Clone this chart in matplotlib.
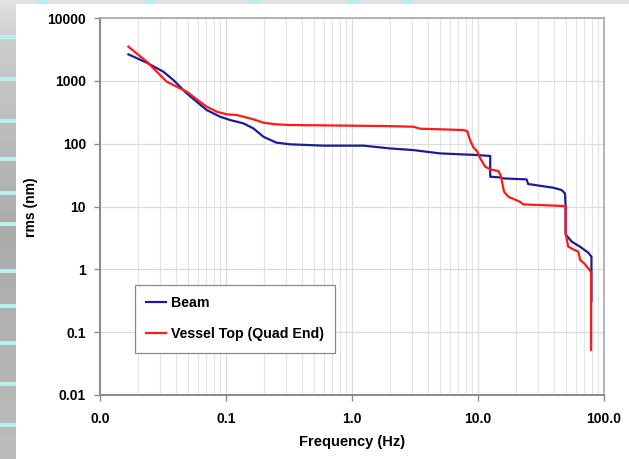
import numpy as np
import matplotlib
matplotlib.use("Agg")
import matplotlib.pyplot as plt
from matplotlib.patches import Rectangle, Polygon
from matplotlib.ticker import FixedLocator, NullFormatter

plt.rcParams['font.family'] = ['Liberation Sans', 'DejaVu Sans']

# ---- data ----
beam_f = [0.0168, 0.0235, 0.0318, 0.0382, 0.0488, 0.0585, 0.0703, 0.0896, 0.1076,
          0.137, 0.165, 0.198, 0.250, 0.322, 0.59, 1.23, 2.0, 3.07, 5.0, 9.77,
          12.5, 12.5, 15.0, 15.9, 24.3, 25.0, 39.6, 46.0, 49.0, 49.6, 49.6, 55.4,
          64.6, 75.0, 79.5, 79.5]
beam_v = [2640, 1945, 1399, 1031, 632, 466, 343, 269, 238,
          211, 175, 129, 104, 97.6, 93, 93, 84, 79, 70, 66,
          63.7, 29.8, 29, 28, 27, 22.8, 19.9, 18.3, 16.2, 10, 3.6, 2.76,
          2.29, 1.84, 1.59, 0.31]

vessel_f = [0.0168, 0.0235, 0.0282, 0.0338, 0.0487, 0.0585, 0.0702, 0.0843,
            0.101, 0.1215, 0.137, 0.165, 0.198, 0.250, 0.322, 1.09, 2.0, 3.07,
            3.47, 7.64, 8.22, 8.64, 9.19, 9.89, 10.4, 11.4, 12.5, 14.5, 15.1, 16.1,
            17.4, 21.5, 22.9, 47.5, 49.6, 49.6, 52, 57, 62.5, 64.6, 69.4, 75, 79, 79]
vessel_v = [3497, 2018, 1399, 970, 672, 508, 388, 323,
            293, 286, 269, 244, 216, 203, 198, 193, 190, 186,
            173, 165, 158, 114, 87.5, 74.5, 58.5, 43, 39, 36.7, 31.7, 17.2,
            14.3, 11.9, 10.8, 10.2, 10, 3.74, 2.29, 2.08, 1.91, 1.41, 1.25, 1.04, 0.9, 0.052]

series_names = ["Beam", "Vessel Top (Quad End)"]
x_ticks = [0.01, 0.1, 1, 10, 100]
x_ticklabels = ["0.0", "0.1", "1.0", "10.0", "100.0"]
y_ticks = [0.01, 0.1, 1, 10, 100, 1000, 10000]
y_ticklabels = ["0.01", "0.1", "1", "10", "100", "1000", "10000"]

W, H = 629, 459
fig = plt.figure(figsize=(W / 100, H / 100), dpi=100)
fig.patch.set_facecolor('white')

# ---- decorative slide background ----
bg = fig.add_axes([0, 0, 16 / W, 1])
bg.set_axis_off()
grad = np.interp(np.linspace(0, 1, 200), [0, 0.1, 0.5, 1.0], [0.88, 0.80, 0.67, 0.74])
img = np.repeat(grad[:, None], 4, axis=1)
img = np.dstack([img, img, img])
bg.imshow(img, aspect='auto', extent=[0, 1, 0, 1], origin='upper')
bg.set_xlim(0, 1)
bg.set_ylim(0, 1)
stripes_y = [35, 77, 119, 157, 191, 222, 269, 304, 341, 382, 423]
for yy in stripes_y:
    bg.add_patch(Rectangle((0, 1 - (yy + 4) / H), 1, 4 / H, color='#b8f0f0', lw=0))
fig.patches.append(Rectangle((0, 1 - 4 / H), 1, 4 / H, transform=fig.transFigure,
                             facecolor='#e2e2e2', edgecolor='none', zorder=0))
for x0 in [38, 145, 250, 348, 403]:
    fig.patches.append(Polygon([(x0 / W, 1), ((x0 + 12) / W, 1),
                                ((x0 + 9) / W, 1 - 4 / H), ((x0 - 3) / W, 1 - 4 / H)],
                               closed=True, transform=fig.transFigure,
                               facecolor='#b8eeee', edgecolor='none', zorder=1))

# ---- main axes ----
left, right, top, bottom = 100, 604, 18, 395
ax = fig.add_axes([left / W, (H - bottom) / H, (right - left) / W, (bottom - top) / H])
ax.set_xscale('log')
ax.set_yscale('log')
ax.set_xlim(0.01, 100)
ax.set_ylim(0.01, 10000)

ax.plot(beam_f, beam_v, color='#1c1c96', lw=1.6, label=series_names[0], zorder=3)
ax.plot(vessel_f, vessel_v, color='#ff1a1a', lw=1.6, label=series_names[1], zorder=4)

ax.xaxis.set_major_locator(FixedLocator(x_ticks))
ax.set_xticklabels(x_ticklabels)
minor_x = [m * 10.0 ** e for e in range(-2, 2) for m in range(2, 10)]
ax.xaxis.set_minor_locator(FixedLocator(minor_x))
ax.xaxis.set_minor_formatter(NullFormatter())
ax.yaxis.set_major_locator(FixedLocator(y_ticks))
ax.set_yticklabels(y_ticklabels)
ax.yaxis.set_minor_locator(FixedLocator([]))

ax.grid(True, which='major', axis='both', color='#dcdcdc', lw=0.9)
ax.grid(True, which='minor', axis='x', color='#e4e4e4', lw=0.8)
ax.set_axisbelow(True)

for side in ['left', 'bottom']:
    ax.spines[side].set_color('#8a8a8a')
    ax.spines[side].set_linewidth(1.4)
for side in ['top', 'right']:
    ax.spines[side].set_color('#a8a8a8')
    ax.spines[side].set_linewidth(1.2)

ax.tick_params(axis='both', which='major', direction='out', length=4, width=1,
               color='#8a8a8a', labelsize=10, pad=6)
ax.tick_params(axis='x', which='minor', length=0)
for lab in ax.get_xticklabels() + ax.get_yticklabels():
    lab.set_fontweight('bold')
ax.tick_params(axis='x', pad=8)

ax.set_xlabel('Frequency (Hz)', fontsize=10.5, fontweight='bold', labelpad=7)
ax.set_ylabel('rms (nm)', fontsize=10, fontweight='bold')
ax.yaxis.set_label_coords(38 / W, (H - 207) / H, transform=fig.transFigure)

leg = ax.legend(loc='upper left', bbox_to_anchor=(135 / W, 1 - 285 / H),
                bbox_transform=fig.transFigure, borderaxespad=0,
                frameon=True, fancybox=False, edgecolor='#8a8a8a', framealpha=1,
                prop={'size': 10.2, 'weight': 'bold'}, handlelength=1.4,
                handletextpad=0.35, labelspacing=1.2, borderpad=0.8)
leg.get_frame().set_linewidth(0.9)

fig.savefig('out.png', dpi=100)
